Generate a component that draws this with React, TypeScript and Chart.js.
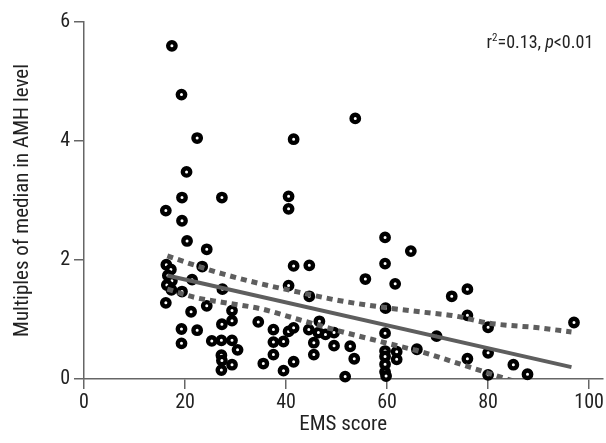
import React, { useEffect, useRef } from "react";
import { Chart, registerables } from "chart.js";

Chart.register(...registerables);

const FONT = "'Liberation Sans Narrow', 'Roboto Condensed', 'Arial Narrow', Roboto, sans-serif";

// EMS score (x) of each subject
const emsScore = [
  17.4, 19.3, 22.4, 20.3, 19.4, 27.3, 16.2, 19.4, 20.4, 24.3, 23.4,
  16.3, 17.2, 16.6, 17.4, 16.4, 17.3,
  21.4, 27.4, 19.4, 16.2, 24.3, 21.2, 29.3, 27.3, 29.3, 34.5, 19.3, 22.4,
  19.3, 25.3, 27.2, 29.3, 30.4, 27.2, 27.3, 29.3, 27.2, 35.5,
  40.5, 40.5, 41.5, 53.7, 41.5, 44.6, 40.5, 44.6, 37.5, 40.5, 41.5, 44.5,
  46.6, 46.4, 47.8, 49.5, 37.5, 39.5, 45.5, 49.5, 52.7, 37.5, 45.5, 53.5,
  41.5, 39.5, 51.7,
  59.6, 64.7, 59.6, 55.7, 61.6, 59.7, 59.6, 59.6, 61.9, 59.6, 61.9, 59.6,
  59.6, 59.8, 65.9, 69.8,
  72.8, 75.9, 75.9, 80.0, 80.0, 75.9, 85.0, 87.8, 80.0, 97.0,
];

// Multiples of median in AMH level (y) of each subject
const amhMoM = [
  5.6, 4.78, 4.05, 3.48, 3.05, 3.05, 2.83, 2.66, 2.32, 2.18, 1.89,
  1.92, 1.84, 1.74, 1.65, 1.58, 1.5,
  1.67, 1.51, 1.47, 1.28, 1.23, 1.13, 1.15, 0.92, 0.98, 0.96, 0.84, 0.82,
  0.6, 0.64, 0.65, 0.65, 0.49, 0.4, 0.31, 0.24, 0.15, 0.26,
  3.07, 2.86, 4.03, 4.38, 1.9, 1.91, 1.57, 1.39, 0.83, 0.8, 0.86, 0.83,
  0.97, 0.78, 0.75, 0.78, 0.62, 0.63, 0.61, 0.56, 0.55, 0.41, 0.41, 0.34,
  0.29, 0.14, 0.04,
  2.38, 2.15, 1.94, 1.68, 1.6, 1.19, 0.77, 0.47, 0.46, 0.38, 0.33, 0.25,
  0.12, 0.05, 0.5, 0.72,
  1.39, 1.51, 1.07, 0.87, 0.44, 0.34, 0.24, 0.08, 0.07, 0.95,
];

// Regression line
const fitX = [16.5, 96.5];
const fitY = [1.74, 0.2];

// 95% confidence band
const bandX = [16.5, 22, 27.3, 35, 42.5, 50.4, 59.6, 67.5, 73.4, 80, 90, 96.5];
const bandUpper = [2.07, 1.91, 1.77, 1.6, 1.46, 1.32, 1.2, 1.12, 1.06, 0.94, 0.86, 0.79];
const bandLower = [1.51, 1.37, 1.29, 1.18, 1.0, 0.81, 0.61, 0.44, 0.28, 0.1, -0.17, -0.34];

const xTicks = [0, 20, 40, 60, 80, 100];
const yTicks = [0, 2, 4, 6];
const xTitle = "EMS score";
const yTitle = "Multiples of median in AMH level";
const statR2 = "0.13";
const statP = "0.01";

const statPlugin = {
  id: "statText",
  afterDraw(chart: any) {
    const { ctx, chartArea } = chart;
    const size = 18;
    const parts = [
      { t: "r", font: `${size}px ${FONT}`, dy: 0 },
      { t: "2", font: `${Math.round(size * 0.62)}px ${FONT}`, dy: -7 },
      { t: `=${statR2}, `, font: `${size}px ${FONT}`, dy: 0 },
      { t: "p", font: `italic ${size}px ${FONT}`, dy: 0 },
      { t: `<${statP}`, font: `${size}px ${FONT}`, dy: 0 },
    ];
    ctx.save();
    let total = 0;
    for (const p of parts) {
      ctx.font = p.font;
      total += ctx.measureText(p.t).width;
    }
    let x = chartArea.right - 9 - total;
    const base = chartArea.top + 26;
    ctx.fillStyle = "#222";
    ctx.textBaseline = "alphabetic";
    ctx.textAlign = "left";
    for (const p of parts) {
      ctx.font = p.font;
      ctx.fillText(p.t, x, base + p.dy);
      x += ctx.measureText(p.t).width;
    }
    ctx.restore();
  },
};

export default function App() {
  const ref = useRef<HTMLCanvasElement | null>(null);

  useEffect(() => {
    document.body.style.margin = "0";
    const canvas = ref.current;
    if (!canvas) return;

    const toPts = (xs: number[], ys: number[]) => xs.map((x, i) => ({ x, y: ys[i] }));

    const lineColor = "#5e5e5e";
    const axisColor = "#666";

    const chart = new Chart(canvas, {
      type: "scatter",
      data: {
        datasets: [
          {
            label: "upper",
            data: toPts(bandX, bandUpper),
            showLine: true,
            borderColor: lineColor,
            borderWidth: 5,
            borderDash: [6, 5],
            pointRadius: 0,
            tension: 0.4,
            cubicInterpolationMode: "monotone",
            clip: 0,
          } as any,
          {
            label: "lower",
            data: toPts(bandX, bandLower),
            showLine: true,
            borderColor: lineColor,
            borderWidth: 5,
            borderDash: [6, 5],
            pointRadius: 0,
            tension: 0.4,
            cubicInterpolationMode: "monotone",
            clip: 0,
          } as any,
          {
            label: "fit",
            data: toPts(fitX, fitY),
            showLine: true,
            borderColor: lineColor,
            borderWidth: 4,
            pointRadius: 0,
          } as any,
          {
            label: "subjects",
            data: toPts(emsScore, amhMoM),
            pointStyle: "circle",
            pointRadius: 3.7,
            pointBorderWidth: 4.4,
            pointBackgroundColor: "#fff",
            pointBorderColor: "#000",
            clip: false,
          } as any,
        ],
      },
      options: {
        animation: false,
        responsive: false,
        maintainAspectRatio: false,
        events: [],
        layout: { padding: { top: 22, right: 2, left: 0, bottom: 0 }, autoPadding: false },
        plugins: { legend: { display: false }, tooltip: { enabled: false } },
        scales: {
          x: {
            type: "linear",
            min: 0,
            max: 102.6,
            afterBuildTicks: (s: any) => {
              s.ticks = xTicks.map((v) => ({ value: v }));
            },
            afterFit: (s: any) => {
              s.height = 64;
            },
            grid: { drawOnChartArea: false, drawTicks: true, tickLength: 10, color: axisColor, lineWidth: 1.5 },
            border: { display: true, color: axisColor, width: 1.5 },
            ticks: { font: { size: 20, family: FONT }, color: "#222", padding: 2, maxRotation: 0 },
            title: {
              display: true,
              text: xTitle,
              font: { size: 21, family: FONT },
              color: "#222",
              padding: { top: 0, bottom: 6 },
            },
          },
          y: {
            type: "linear",
            min: 0,
            max: 6,
            afterBuildTicks: (s: any) => {
              s.ticks = yTicks.map((v) => ({ value: v }));
            },
            afterFit: (s: any) => {
              s.width = 84;
            },
            grid: { drawOnChartArea: false, drawTicks: true, tickLength: 10, color: axisColor, lineWidth: 1.5 },
            border: { display: true, color: axisColor, width: 1.5 },
            ticks: { font: { size: 20, family: FONT }, color: "#222", padding: 4 },
            title: {
              display: true,
              text: yTitle,
              font: { size: 21, family: FONT },
              color: "#222",
              padding: { top: 10, bottom: 0 },
            },
          },
        },
      } as any,
      plugins: [statPlugin],
    });

    return () => chart.destroy();
  }, []);

  return (
    <canvas
      ref={ref}
      width={606}
      height={443}
      style={{ display: "block", width: "606px", height: "443px" }}
    />
  );
}
